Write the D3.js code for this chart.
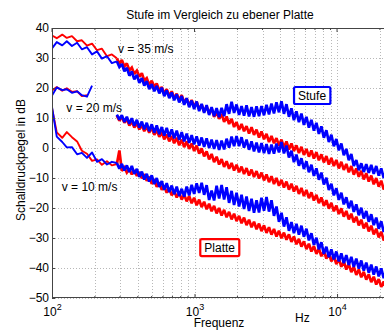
<!DOCTYPE html>
<html><head><meta charset="utf-8">
<script src="https://cdn.jsdelivr.net/npm/d3@7"></script>
<style>body{margin:0;background:#fff}svg{display:block;font-family:"Liberation Sans",Arial,Helvetica,sans-serif}</style>
</head><body><svg id="c" width="384" height="331"></svg>
<script>
// ---- data ----
const freqHz = [100,108,118,127,138,150,162,176,191,207,224,243,263,
  285,297,309,322,335,349,363,378,394,410,
  427,444,462,481,501,522,543,566,589,613,
  638,665,692,720,750,781,813,846,881,917,
  955,994,1035,1078,1122,1168,1216,1266,1318,1372,
  1429,1488,1549,1613,1679,1748,1820,1895,1972,2054,
  2138,2226,2317,2413,2512,2615,2723,2835,2951,3073,
  3199,3331,3467,3610,3758,3913,4074,4241,4416,4597,
  4786,4983,5188,5401,5623,5854,6095,6345,6607,6879,
  7161,7456,7762,8081,8414,8760,9120,9495,9886,10292,
  10715,11156,11614,12092,12589,13106,13646,14207,14791,15399,
  16032,16691,17378,18092,18836,19611,20417,21257,22131];

const platte35 = [37.5,36.6,37.8,36.7,37.3,35.6,35.9,34.1,34.8,32.6,33.1,30.6,31.2,
  29.9,28.1,29.3,27.2,28.2,25.9,26.8,24.7,25.8,23.8,
  24.9,22.5,23.3,21.0,22.4,20.5,21.5,19.1,20.3,18.2,
  19.6,17.4,18.9,16.6,18.1,16.0,17.6,15.2,16.5,14.3,
  16.0,13.8,15.4,12.9,14.5,12.1,13.9,11.5,13.2,10.4,
  12.0,9.7,11.4,8.7,10.5,8.0,9.7,7.0,8.6,6.1,
  8.0,5.6,7.3,4.8,6.9,4.4,6.1,3.5,5.5,2.9,
  4.7,2.0,4.0,1.6,3.3,0.8,2.8,0.2,2.2,-0.5,
  1.5,-1.0,0.9,-1.7,0.4,-2.3,-0.3,-2.9,-0.8,-3.5,
  -1.4,-4.1,-2.1,-4.8,-2.7,-5.5,-3.3,-6.0,-4.0,-6.8,
  -4.6,-7.3,-5.3,-8.1,-6.0,-8.9,-6.8,-9.6,-7.6,-10.5,
  -8.4,-11.2,-9.2,-12.1,-10.0,-12.9,-10.9,-13.8,-11.9];
const stufe35 = [33.2,35.3,34.2,35.6,34.0,35.1,32.9,33.6,31.2,32.2,29.8,30.6,28.3,
  28.9,27.0,28.0,25.6,26.7,24.1,25.5,22.9,24.4,21.7,
  23.3,20.8,22.3,19.6,21.3,18.9,20.7,18.2,20.1,17.3,
  19.2,16.6,18.5,15.9,17.9,15.2,17.3,14.4,16.6,13.6,
  15.8,13.0,15.5,12.3,14.7,11.7,14.3,11.0,13.6,10.6,
  13.3,10.3,13.4,10.6,14.6,11.4,15.4,11.7,14.5,11.0,
  14.0,10.8,14.2,10.5,13.6,10.4,13.9,10.6,14.0,10.9,
  14.4,11.2,14.8,11.5,15.2,11.9,15.6,11.4,14.6,10.4,
  13.2,9.3,12.2,8.6,11.5,7.7,10.4,6.8,9.4,5.8,
  8.4,4.7,7.2,3.4,5.9,2.0,4.4,0.6,3.0,-0.8,
  1.5,-2.4,-0.3,-4.1,-2.0,-6.0,-4.0,-7.4,-5.1,-8.0,
  -5.4,-8.3,-5.6,-8.6,-6.0,-9.2,-6.8,-10.0,-7.6];
const platte20 = [19.2,20.3,19.1,19.9,18.7,18.9,17.3,17.6,null,null,null,null,null,
  10.8,9.1,10.4,8.4,9.6,7.5,8.9,6.8,8.2,6.2,
  7.7,5.6,7.2,5.1,6.8,4.4,6.0,3.7,5.3,2.9,
  4.5,2.2,4.0,1.6,3.4,0.9,2.8,0.3,2.2,-0.3,
  1.5,-1.0,0.8,-1.9,-0.1,-2.8,-1.1,-3.8,-2.0,-4.7,
  -2.9,-5.5,-3.7,-6.3,-4.4,-6.9,-5.0,-7.5,-5.6,-8.1,
  -6.2,-8.7,-6.7,-9.2,-7.2,-9.7,-7.7,-10.2,-8.2,-10.8,
  -8.8,-11.4,-9.4,-12.0,-10.0,-12.6,-10.6,-13.2,-11.2,-13.9,
  -11.9,-14.5,-12.6,-15.3,-13.3,-16.0,-14.0,-16.7,-14.8,-17.5,
  -15.6,-18.4,-16.5,-19.3,-17.4,-20.2,-18.3,-21.1,-19.2,-22.0,
  -20.1,-22.9,-21.0,-23.8,-21.9,-24.8,-22.9,-25.8,-23.9,-26.8,
  -24.9,-27.8,-25.9,-28.8,-26.9,-29.8,-27.9,-30.8,-28.9];
const stufe20 = [17.5,20.2,19.3,19.6,18.4,18.9,17.6,17.1,20.8,null,null,null,null,
  11.1,9.5,10.9,8.7,10.4,8.1,9.9,7.4,9.4,6.8,
  8.8,6.2,8.4,5.6,7.9,5.1,7.5,4.6,7.0,4.1,
  6.7,3.7,6.2,3.2,5.8,2.7,5.3,2.2,4.8,1.7,
  4.3,1.2,3.9,0.8,3.5,0.4,3.2,0.0,2.8,-0.3,
  2.6,-0.6,2.5,-0.5,3.1,0.1,3.8,0.6,4.0,0.6,
  3.6,0.1,2.8,-0.6,2.2,-1.1,1.8,-1.5,1.6,-1.7,
  1.3,-2.0,1.1,-1.9,1.5,-1.5,2.0,-1.8,0.8,-3.2,
  -0.9,-4.7,-2.2,-5.9,-3.4,-7.0,-4.4,-8.1,-5.6,-9.3,
  -6.8,-10.6,-8.2,-12.2,-9.9,-14.0,-11.9,-15.8,-13.4,-17.3,
  -14.9,-18.8,-16.4,-20.1,-17.6,-21.3,-18.8,-22.4,-19.9,-23.5,
  -21.0,-24.6,-22.1,-25.7,-23.2,-26.9,-24.4,-28.0,-25.4];
const platte10 = [13.3,5.2,3.4,5.3,3.6,2.2,-0.9,-1.9,-4.3,-3.8,-5.6,-4.4,-5.8,
  -5.4,-0.8,-7.6,-6.5,-8.2,-7.0,-8.8,-7.4,-9.3,-8.0,
  -10.1,-8.7,-10.9,-9.6,-11.9,-10.5,-12.9,-11.5,-13.9,-12.6,
  -14.9,-13.4,-15.8,-14.2,-16.5,-14.8,-17.2,-15.5,-17.8,-16.0,
  -18.4,-16.6,-19.1,-17.2,-19.7,-17.9,-20.4,-18.6,-21.1,-19.3,
  -21.8,-20.0,-22.5,-20.6,-23.1,-21.3,-23.8,-21.9,-24.4,-22.6,
  -25.1,-23.2,-25.7,-23.9,-26.4,-24.6,-27.1,-25.2,-27.7,-25.8,
  -28.3,-26.4,-28.9,-27.0,-29.5,-27.6,-30.1,-28.2,-30.6,-28.8,
  -31.3,-29.5,-32.1,-30.3,-32.9,-31.1,-33.7,-31.9,-34.5,-32.7,
  -35.3,-33.5,-36.1,-34.3,-36.9,-35.1,-37.8,-36.0,-38.7,-36.9,
  -39.6,-37.8,-40.5,-38.7,-41.4,-39.6,-42.3,-40.5,-43.1,-41.3,
  -43.9,-42.1,-44.7,-42.9,-45.5,-43.7,-46.3,-44.5,-47.1];
const stufe10 = [13.7,3.8,2.0,0.2,0.3,-2.1,-1.6,-3.3,-1.5,-4.6,-3.7,-5.5,-4.6,
  -5.0,-6.9,-5.3,-7.5,-5.8,-8.0,-6.0,-8.6,-7.0,-9.6,
  -7.9,-10.5,-8.6,-11.2,-9.1,-12.0,-10.0,-13.0,-11.0,-13.9,
  -11.7,-14.7,-12.5,-15.4,-12.9,-16.0,-13.6,-16.2,-12.9,-15.8,
  -12.3,-15.3,-11.8,-15.0,-11.6,-15.6,-12.4,-17.3,-14.2,-17.5,
  -12.6,-16.8,-12.3,-17.2,-13.1,-18.3,-14.3,-19.0,-14.9,-19.5,
  -15.6,-20.3,-16.2,-21.0,-16.9,-21.6,-17.4,-21.5,-16.6,-20.9,
  -16.3,-21.2,-17.4,-22.6,-19.5,-24.6,-21.6,-26.2,-23.1,-27.6,
  -24.7,-28.4,-25.3,-28.9,-25.9,-29.6,-26.9,-30.8,-28.4,-32.3,
  -29.9,-33.8,-31.4,-35.3,-32.9,-36.4,-33.8,-37.1,-34.5,-37.8,
  -35.1,-38.4,-35.7,-39.0,-36.3,-39.6,-36.9,-40.2,-37.5,-40.9,
  -38.2,-41.6,-38.9,-42.2,-39.5,-42.8,-40.1,-43.4,-40.7];

const yTicks = [-50,-40,-30,-20,-10,0,10,20,30,40];
const xMajorHz = [100,1000,10000];
const xMinorHz = [200,300,400,500,600,700,800,900,2000,3000,4000,5000,6000,7000,8000,9000,20000];
const titleText = "Stufe im Vergleich zu ebener Platte";
const xLabel = "Frequenz", xUnit = "Hz", yLabel = "Schalldruckpegel in dB";

// ---- drawing ----
const svg = d3.select("#c");
const L = 52, R = 386, T = 28, B = 298;
const x = d3.scaleLog().domain([100, 22050]).range([L, R]);
const y = d3.scaleLinear().domain([-50, 40]).range([B, T]);
const RED = "#ff0000", BLUE = "#0000ff";

svg.append("rect").attr("x", L).attr("y", T).attr("width", R - L).attr("height", B - T).attr("fill", "#fff");

// grid
const grid = svg.append("g").attr("stroke", "#b8b8b8").attr("stroke-width", 1).attr("stroke-dasharray", "1,2");
grid.selectAll("line.gx").data(xMajorHz.concat(xMinorHz)).join("line")
  .attr("x1", d => Math.round(x(d)) + 0.5).attr("x2", d => Math.round(x(d)) + 0.5)
  .attr("y1", T).attr("y2", B);
grid.selectAll("line.gy").data(yTicks).join("line")
  .attr("x1", L).attr("x2", R)
  .attr("y1", d => Math.round(y(d)) + 0.5).attr("y2", d => Math.round(y(d)) + 0.5);

// curves: thinner below ~280 Hz (sparser, single noisy line), dense band above
svg.append("clipPath").attr("id", "pc").append("rect")
  .attr("x", L).attr("y", T).attr("width", R - L).attr("height", B - T);
const line = d3.line().defined(d => d[1] !== null && d[1] !== undefined).x(d => x(d[0])).y(d => y(d[1]));
const series = [
  {v: platte35, c: RED}, {v: platte20, c: RED}, {v: platte10, c: RED},
  {v: stufe35, c: BLUE}, {v: stufe20, c: BLUE}, {v: stufe10, c: BLUE}
];
const SPLIT = 13;
const cg = svg.append("g").attr("clip-path", "url(#pc)");
series.forEach(s => {
  const pts = freqHz.map((f, i) => [f, s.v[i]]);
  cg.append("path").datum(pts.slice(0, SPLIT + 1))
    .attr("d", line).attr("fill", "none").attr("stroke", s.c)
    .attr("stroke-width", 1.9).attr("stroke-linejoin", "round");
  cg.append("path").datum(pts.slice(SPLIT))
    .attr("d", line).attr("fill", "none").attr("stroke", s.c)
    .attr("stroke-width", 2.7).attr("stroke-linejoin", "miter").attr("stroke-miterlimit", 2);
});

// axes
const axisCol = "#444";
const yAxis = svg.append("g").attr("transform", `translate(${L},0)`)
  .call(d3.axisLeft(y).tickValues(yTicks).tickSize(-3).tickPadding(3).tickFormat(d3.format("d")));
yAxis.select(".domain").remove();
yAxis.selectAll("line").attr("stroke", axisCol);
yAxis.selectAll("text").attr("font-size", 12).attr("fill", "#000").attr("font-family", "Liberation Sans, Arial, sans-serif");

const xAxis = svg.append("g").attr("transform", `translate(0,${B})`)
  .call(d3.axisBottom(x).tickValues(xMajorHz).tickSize(-4).tickFormat(""));
xAxis.select(".domain").remove();
xAxis.selectAll("line").attr("stroke", axisCol);
xAxis.selectAll(".tick").each(function(d) {
  const t = d3.select(this).select("text");
  t.attr("y", 18).attr("dy", 0).attr("font-size", 12).attr("fill", "#000")
   .attr("font-family", "Liberation Sans, Arial, sans-serif");
  t.text("10");
  t.append("tspan").attr("dy", -6).attr("font-size", 9).text(Math.round(Math.log10(d)));
});
svg.append("g").selectAll("line").data(xMinorHz).join("line")
  .attr("x1", d => x(d)).attr("x2", d => x(d)).attr("y1", B).attr("y2", B - 2).attr("stroke", axisCol);
svg.append("g").selectAll("line").data(xMajorHz).join("line")
  .attr("x1", d => x(d)).attr("x2", d => x(d)).attr("y1", T).attr("y2", T + 4).attr("stroke", axisCol);
svg.append("g").selectAll("line").data(xMinorHz).join("line")
  .attr("x1", d => x(d)).attr("x2", d => x(d)).attr("y1", T).attr("y2", T + 2).attr("stroke", axisCol);

// box
svg.append("path").attr("d", `M${R},${T + 0.5}H${L + 0.5}V${B - 0.5}H${R}`)
  .attr("fill", "none").attr("stroke", axisCol).attr("stroke-width", 1);

// titles
const txt = (s, px, py, opts = {}) => svg.append("text").attr("x", px).attr("y", py)
  .attr("font-size", opts.size || 12).attr("text-anchor", opts.anchor || "start")
  .attr("fill", "#000").text(s);
txt(titleText, 220, 19, {anchor: "middle"});
txt(xLabel, 219, 327, {anchor: "middle"});
txt(xUnit, 295, 322);
svg.append("text").attr("transform", "translate(25,160) rotate(-90)")
  .attr("text-anchor", "middle").attr("font-size", 12).attr("fill", "#000").text(yLabel);

// annotations
txt("v = 35 m/s", x(290), y(31.7));
txt("v = 20 m/s", x(126), y(12));
txt("v = 10 m/s", x(117), y(-14.3));

function boxLabel(s, f, db, col) {
  const g = svg.append("g");
  const t = g.append("text").attr("x", x(f)).attr("y", y(db)).attr("text-anchor", "middle")
    .attr("dominant-baseline", "central").attr("font-size", 12).attr("fill", "#000").text(s);
  const bb = t.node().getBBox();
  g.insert("rect", "text").attr("x", bb.x - 4).attr("y", y(db) - 8.5)
    .attr("width", bb.width + 8).attr("height", 17).attr("rx", 1.5)
    .attr("fill", "#fff").attr("stroke", col).attr("stroke-width", 2.2);
}
boxLabel("Stufe", 6677, 17.5, BLUE);
boxLabel("Platte", 1500, -33.2, RED);
</script></body></html>
